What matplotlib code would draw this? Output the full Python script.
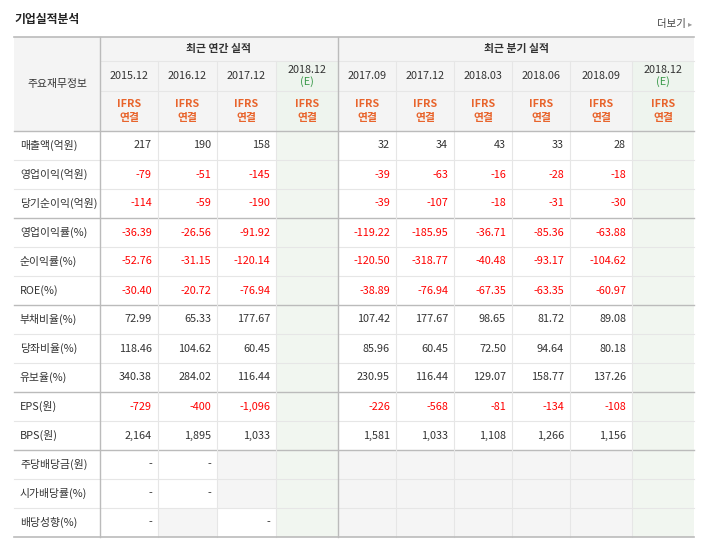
import matplotlib
matplotlib.use("Agg")
import matplotlib.pyplot as plt
from matplotlib.patches import Rectangle

plt.rcParams["font.family"] = ["Noto Sans CJK KR", "DejaVu Sans"]

row_labels = ["매출액(억원)", "영업이익(억원)", "당기순이익(억원)", "영업이익률(%)", "순이익률(%)", "ROE(%)",
              "부채비율(%)", "당좌비율(%)", "유보율(%)", "EPS(원)", "BPS(원)",
              "주당배당금(원)", "시가배당률(%)", "배당성향(%)"]
annual_cols = ["2015.12", "2016.12", "2017.12", "2018.12"]
quarter_cols = ["2017.09", "2017.12", "2018.03", "2018.06", "2018.09", "2018.12"]
N = None
annual = [
    ["217", "190", "158", N], ["-79", "-51", "-145", N], ["-114", "-59", "-190", N],
    ["-36.39", "-26.56", "-91.92", N], ["-52.76", "-31.15", "-120.14", N], ["-30.40", "-20.72", "-76.94", N],
    ["72.99", "65.33", "177.67", N], ["118.46", "104.62", "60.45", N], ["340.38", "284.02", "116.44", N],
    ["-729", "-400", "-1,096", N], ["2,164", "1,895", "1,033", N],
    ["-", "-", "", N], ["-", "-", "", N], ["-", "", "-", N],
]
quarter = [
    ["32", "34", "43", "33", "28", N], ["-39", "-63", "-16", "-28", "-18", N], ["-39", "-107", "-18", "-31", "-30", N],
    ["-119.22", "-185.95", "-36.71", "-85.36", "-63.88", N], ["-120.50", "-318.77", "-40.48", "-93.17", "-104.62", N],
    ["-38.89", "-76.94", "-67.35", "-63.35", "-60.97", N],
    ["107.42", "177.67", "98.65", "81.72", "89.08", N], ["85.96", "60.45", "72.50", "94.64", "80.18", N],
    ["230.95", "116.44", "129.07", "158.77", "137.26", N],
    ["-226", "-568", "-81", "-134", "-108", N], ["1,581", "1,033", "1,108", "1,266", "1,156", N],
    ["", "", "", "", "", N], ["", "", "", "", "", N], ["", "", "", "", "", N],
]
red_rows = {1, 2, 3, 4, 5, 9}

W, H = 708, 544
fig = plt.figure(figsize=(W/100, H/100), dpi=100)
ax = fig.add_axes([0, 0, 1, 1])
ax.set_xlim(0, W); ax.set_ylim(H, 0); ax.axis("off")

xs = [14, 100, 158, 217, 276, 338, 396, 454, 512, 570, 632, 694]
y0, y1, y2, y3 = 37, 61, 91, 131
rh = 29
ys = [y3 + i*rh for i in range(len(row_labels)+1)]
tc = "#333333"; hbg = "#f4f4f4"; gbg = "#f1f6f0"; gray = "#f5f5f5"; lc = "#e6e6e6"; dk = "#bbbbbb"
red = "#ff0000"; orange = "#e8642c"; green = "#3a9a4a"
fs = 7.8

ax.text(14, 20, "기업실적분석", fontsize=8.5, fontweight="bold", color="#222", va="center")
ax.text(686, 24, "더보기", fontsize=7.5, color="#444", ha="right", va="center")
ax.text(688, 24, "▸", fontsize=6, color="#999", va="center", fontfamily="DejaVu Sans")

ax.add_patch(Rectangle((14, y0), 680, y3-y0, color=hbg, lw=0))
for ci in (4, 10):
    ax.add_patch(Rectangle((xs[ci], y1), xs[ci+1]-xs[ci], y3-y1, color="#eef4ee", lw=0))
    ax.add_patch(Rectangle((xs[ci], y3), xs[ci+1]-xs[ci], ys[-1]-y3, color=gbg, lw=0))

for r in range(len(row_labels)):
    vals = annual[r] + quarter[r]
    yc = (ys[r]+ys[r+1])/2
    for c, v in enumerate(vals):
        xl, xr = xs[c+1], xs[c+2]
        if v is None:
            continue
        if v == "":
            ax.add_patch(Rectangle((xl, ys[r]), xr-xl, rh, color=gray, lw=0))
            continue
        col = red if (r in red_rows and v.startswith("-") and v != "-") else tc
        ax.text(xr-6, yc, v, fontsize=fs, color=col, ha="right", va="center")
    ax.text(20, yc, row_labels[r], fontsize=fs, color=tc, va="center")

ax.text(57, (y0+y3)/2, "주요재무정보", fontsize=fs, color=tc, ha="center", va="center")
ax.text((xs[1]+xs[5])/2, (y0+y1)/2, "최근 연간 실적", fontsize=fs, fontweight="bold", color=tc, ha="center", va="center")
ax.text((xs[5]+xs[11])/2, (y0+y1)/2, "최근 분기 실적", fontsize=fs, fontweight="bold", color=tc, ha="center", va="center")
allcols = annual_cols + quarter_cols
for c, lab in enumerate(allcols):
    xc = (xs[c+1]+xs[c+2])/2
    if c in (3, 9):
        ax.text(xc, 70, lab, fontsize=fs, color=tc, ha="center", va="center")
        ax.text(xc, 82, "(E)", fontsize=fs, color=green, ha="center", va="center")
    else:
        ax.text(xc, (y1+y2)/2, lab, fontsize=fs, color=tc, ha="center", va="center")
    ax.text(xc, 104, "IFRS", fontsize=fs, fontweight="bold", color=orange, ha="center", va="center")
    ax.text(xc, 118, "연결", fontsize=fs, fontweight="bold", color=orange, ha="center", va="center")

for i, y in enumerate(ys[1:-1], start=1):
    major = i in (3, 6, 9, 11)
    ax.plot([14, 694], [y, y], color=dk if major else lc, lw=1 if major else 0.8)
ax.plot([100, 694], [y1, y1], color=lc, lw=0.8)
ax.plot([100, 694], [y2, y2], color=lc, lw=0.8)
for ci, x in enumerate(xs[1:-1], start=1):
    if ci in (1, 5):
        ax.plot([x, x], [y0, ys[-1]], color=dk, lw=1)
    else:
        ax.plot([x, x], [y1, ys[-1]], color=lc, lw=0.8)
ax.plot([14, 694], [y0, y0], color=dk, lw=1.2)
ax.plot([14, 694], [y3, y3], color=dk, lw=1)
ax.plot([14, 694], [ys[-1], ys[-1]], color=dk, lw=1.2)

fig.savefig("out.png", dpi=100)
